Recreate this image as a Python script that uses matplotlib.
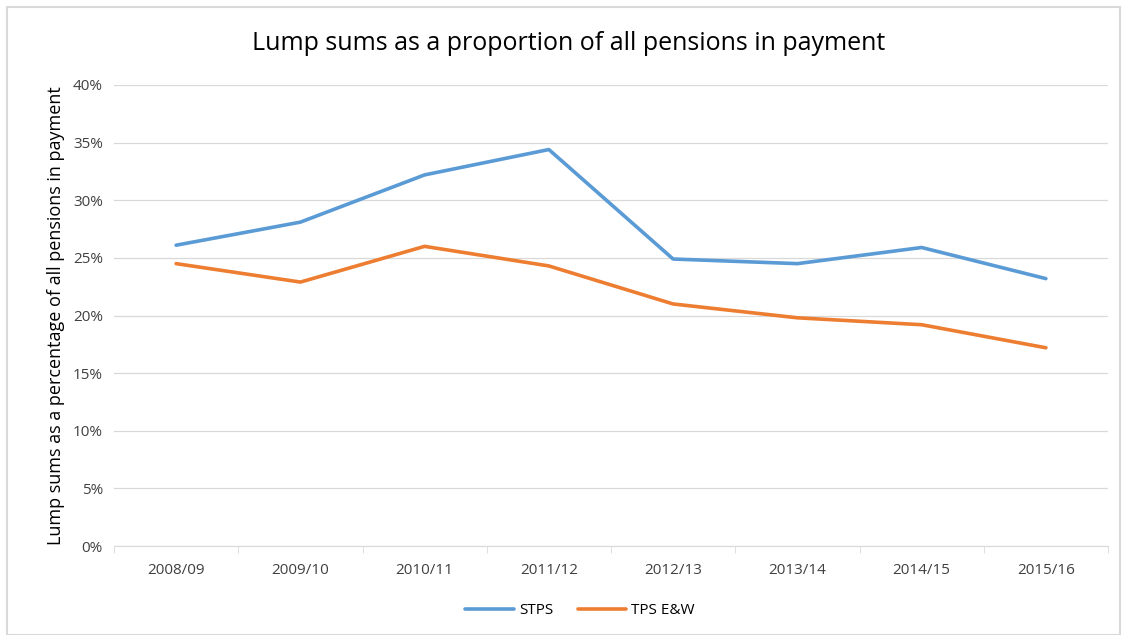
import matplotlib.pyplot as plt
from matplotlib.patches import Rectangle
from matplotlib.ticker import FuncFormatter, FixedLocator

years = ["2008/09", "2009/10", "2010/11", "2011/12", "2012/13", "2013/14", "2014/15", "2015/16"]
stps = [26.1, 28.1, 32.2, 34.4, 24.9, 24.5, 25.9, 23.2]
tps_ew = [24.5, 22.9, 26.0, 24.3, 21.0, 19.8, 19.2, 17.2]

plt.rcParams['font.family'] = ['Open Sans', 'DejaVu Sans']

W, H = 1125, 635
fig = plt.figure(figsize=(W / 100, H / 100), dpi=100)
ax = fig.add_axes([114 / W, 1 - 546 / H, (1108 - 114) / W, (546 - 85) / H])

x = range(len(years))
ax.plot(x, stps, color="#5b9bd5", lw=2.6, label="STPS", solid_capstyle="round")
ax.plot(x, tps_ew, color="#ed7d31", lw=2.6, label="TPS E&W", solid_capstyle="round")

ax.set_xlim(-0.5, len(years) - 0.5)
ax.set_ylim(0, 40)
ax.set_yticks(range(0, 41, 5))
ax.yaxis.set_major_formatter(FuncFormatter(lambda v, p: f"{v:.0f}%"))
ax.set_xticks(list(x))
ax.set_xticklabels(years)
ax.xaxis.set_minor_locator(FixedLocator([i - 0.5 for i in range(len(years) + 1)]))

ax.grid(axis="y", color="#d9d9d9", lw=0.9)
ax.set_axisbelow(True)
for s in ["top", "right", "left"]:
    ax.spines[s].set_visible(False)
ax.spines["bottom"].set_color("#d9d9d9")
ax.tick_params(axis="y", length=0, pad=8, labelsize=11, labelcolor="#404040")
ax.tick_params(axis="x", which="major", length=0, pad=12, labelsize=11, labelcolor="#404040")
ax.tick_params(axis="x", which="minor", length=5, color="#d9d9d9")

ax.set_ylabel("Lump sums as a percentage of all pensions in payment", fontsize=13, labelpad=6)
fig.text(569 / W, 1 - 44 / H, "Lump sums as a proportion of all pensions in payment",
         ha="center", va="center", fontsize=18)

fig.legend(loc="center", bbox_to_anchor=(580 / W, 1 - 611 / H), ncol=2, frameon=False,
           fontsize=11, handlelength=3.2, columnspacing=1.6, handletextpad=0.3)

fig.patches.append(Rectangle((7 / W, 0), (1120 - 7) / W, 1 - 7 / H, transform=fig.transFigure,
                             fill=False, edgecolor="#d9d9d9", lw=1.5))

fig.savefig("out.png", dpi=100)
